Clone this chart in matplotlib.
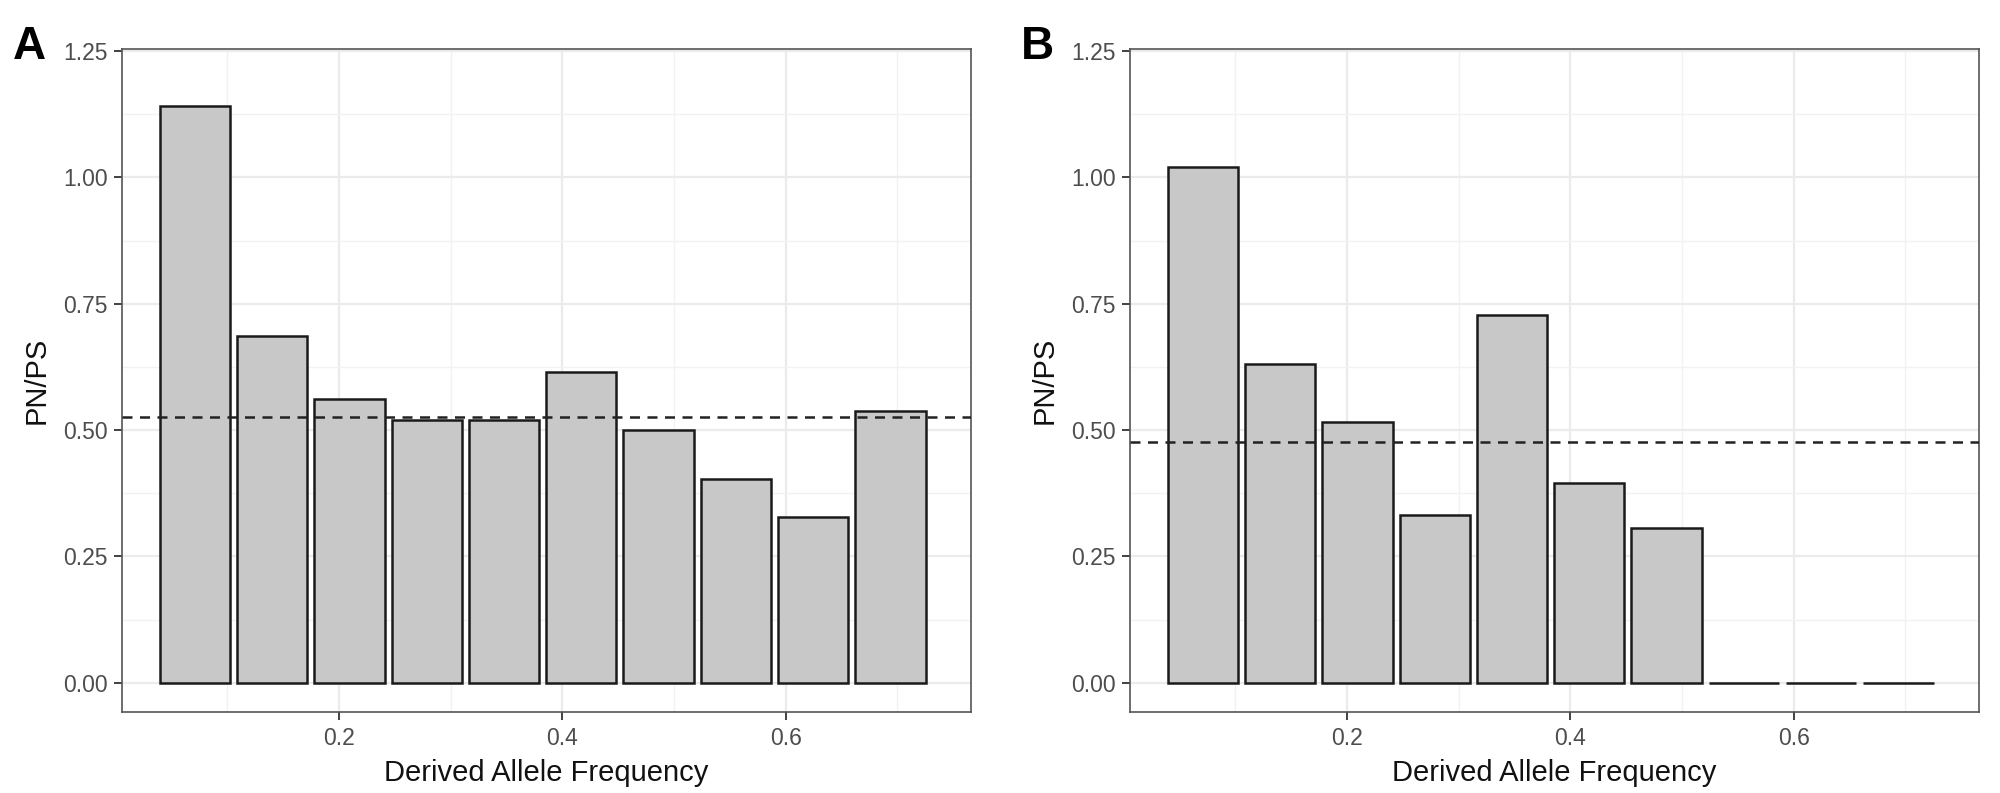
import matplotlib
matplotlib.use("Agg")
import matplotlib.pyplot as plt
from matplotlib.ticker import MultipleLocator

plt.rcParams['font.family'] = ['Liberation Sans', 'DejaVu Sans']

# derived allele frequency bins (bar centres)
freq_bins = [0.071, 0.1402, 0.2094, 0.2786, 0.3478, 0.417, 0.4862, 0.5554, 0.6246, 0.6938]
bar_width = 0.063

# panel A
pnps_a = [1.141, 0.687, 0.561, 0.520, 0.520, 0.614, 0.500, 0.404, 0.328, 0.538]
mean_a = 0.525
# panel B
pnps_b = [1.020, 0.631, 0.515, 0.331, 0.727, 0.396, 0.306, 0.0, 0.0, 0.0]
mean_b = 0.477

panels = [("A", pnps_a, mean_a), ("B", pnps_b, mean_b)]

fig = plt.figure(figsize=(20, 7.93), dpi=100)
lefts = [122 / 2000, 1130 / 2000]
w = 849 / 2000
bottom = 1 - 712 / 793
h = (712 - 48.5) / 793

for (lab, vals, mean), lx in zip(panels, lefts):
    ax = fig.add_axes([lx, bottom, w, h])
    ax.set_axisbelow(True)
    ax.bar(freq_bins, vals, width=bar_width, color="#C8C8C8",
           edgecolor="#1A1A1A", linewidth=1.8, zorder=2)
    ax.axhline(mean, color="#222222", linestyle=(0, (4, 3)), linewidth=1.8, zorder=3)
    ax.set_xlim(0.0057, 0.766)
    ax.set_ylim(-0.058, 1.255)
    ax.set_xticks([0.2, 0.4, 0.6])
    ax.set_yticks([0, 0.25, 0.5, 0.75, 1.0, 1.25])
    ax.set_yticklabels(["0.00", "0.25", "0.50", "0.75", "1.00", "1.25"])
    ax.xaxis.set_minor_locator(MultipleLocator(0.1))
    ax.yaxis.set_minor_locator(MultipleLocator(0.125))
    ax.grid(which="major", color="#EBEBEB", linewidth=1.6)
    ax.grid(which="minor", color="#F2F2F2", linewidth=1.0)
    ax.tick_params(which="minor", length=0)
    ax.tick_params(which="major", length=5.5, width=1.3, color="#333333",
                   labelcolor="#4D4D4D", labelsize=16.5, pad=5)
    for s in ax.spines.values():
        s.set_color("#555555")
        s.set_linewidth(1.2)
    ax.set_xlabel("Derived Allele Frequency", fontsize=21, labelpad=7, color="#111111")
    ax.set_ylabel("PN/PS", fontsize=21, labelpad=9, color="#111111")
    fig.text(lx - 109 / 2000, 1 - 25 / 793, lab, fontsize=33, fontweight="bold",
             ha="left", va="top")

fig.savefig("out.png", dpi=100)
